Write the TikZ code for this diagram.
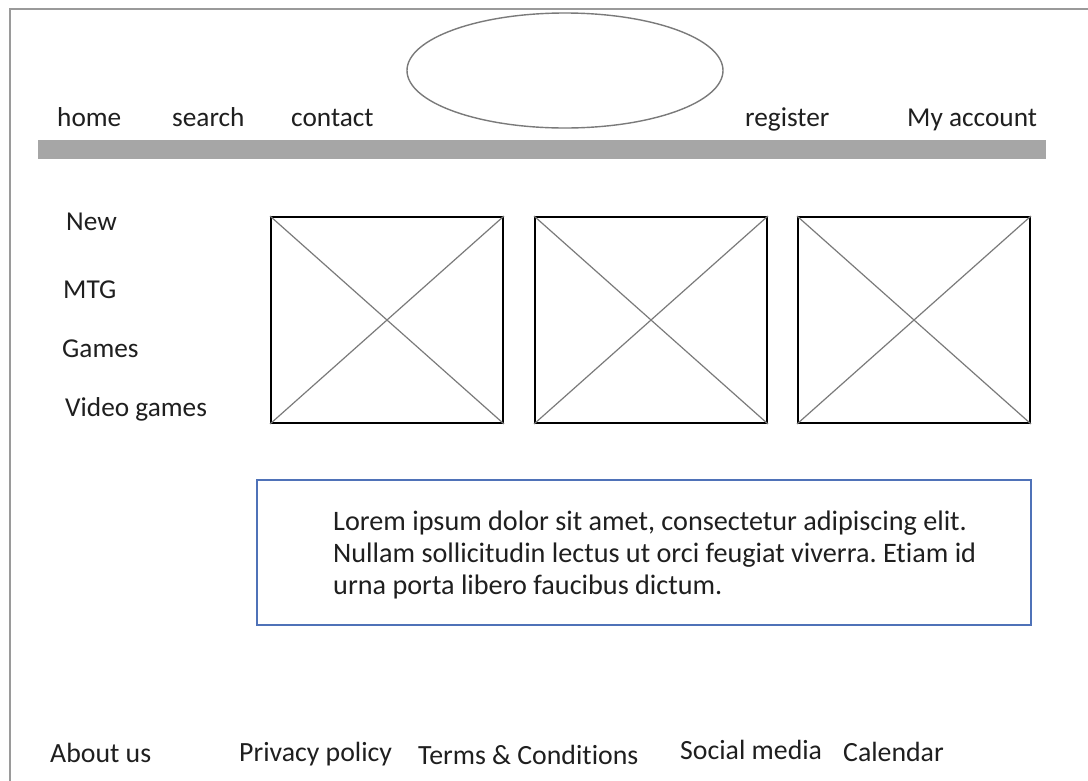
\documentclass[tikz,border=0pt]{standalone}
\usepackage{fontspec}
\setmainfont{Carlito}[Ligatures=NoCommon]
\usetikzlibrary{shapes.geometric}
\definecolor{txt}{HTML}{1F1F1F}
\definecolor{framegray}{HTML}{9A9A9A}
\definecolor{bargray}{HTML}{A6A6A6}
\definecolor{diag}{HTML}{7A7A7A}
\definecolor{boxblue}{HTML}{4F72B8}
\frenchspacing
\tikzset{
  lbl/.style={anchor=base west, inner sep=0pt, text=txt, font=\fontsize{27.3}{32}\selectfont},
  foot/.style={lbl, font=\fontsize{27.8}{32}\selectfont},
  lorem/.style={anchor=base west, inner sep=0pt, text=txt, font=\fontsize{28.2}{32}\selectfont\frenchspacing},
  imgbox/.style={draw=black, line width=1.8pt, minimum width=232pt, minimum height=206pt, inner sep=0pt},
  cross/.style={draw=diag, line width=1.2pt},
}
\begin{document}
\begin{tikzpicture}[x=1pt,y=-1pt]
\useasboundingbox (0,0) rectangle (1088,780);
\clip (0,0) rectangle (1088,780);
\fill[white] (0,0) rectangle (1088,780);
% outer frame
\draw[framegray, line width=1.8pt] (10,9) rectangle (1100,800);
% logo ellipse
\node[ellipse, draw=diag, line width=1.4pt, minimum width=316pt, minimum height=115pt, inner sep=0pt] (logo) at (565,70.5) {};
% nav
\node[lbl] (home) at (57,126) {home};
\node[lbl] (search) at (172,126) {search};
\node[lbl] (contact) at (291,126) {contact};
\node[lbl] (register) at (745,126) {register};
\node[lbl] (account) at (907,126) {My account};
% bar
\fill[bargray] (38,140) rectangle (1046,159);
% left menu
\node[lbl] (new) at (66,230) {New};
\node[lbl] (mtg) at (63,298) {MTG};
\node[lbl] (games) at (62,357) {Games};
\node[lbl] (video) at (65,416) {Video games};
% image boxes
\node[imgbox] (b1) at (387,320) {};
\node[imgbox] (b2) at (651,320) {};
\node[imgbox] (b3) at (914,320) {};
\foreach \b in {b1,b2,b3}{
  \draw[cross] (\b.north west) -- (\b.south east);
  \draw[cross] (\b.south west) -- (\b.north east);
}
% text box
\node[draw=boxblue, line width=1.5pt, minimum width=774pt, minimum height=145pt, inner sep=0pt] (tbox) at (644,552.5) {};
\node[lorem] (l1) at (333,530) {Lorem ipsum dolor sit amet, consectetur adipiscing elit.};
\node[lorem] (l2) at (333,562) {Nullam sollicitudin lectus ut orci feugiat viverra. Etiam id};
\node[lorem] (l3) at (333,594) {urna porta libero faucibus dictum.};
% footer
\node[foot] (about) at (50,762) {About us};
\node[foot] (privacy) at (239,761) {Privacy policy};
\node[foot] (terms) at (418,764) {Terms \& Conditions};
\node[foot] (social) at (680,759) {Social media};
\node[foot] (calendar) at (843,761) {Calendar};
\end{tikzpicture}
\end{document}
